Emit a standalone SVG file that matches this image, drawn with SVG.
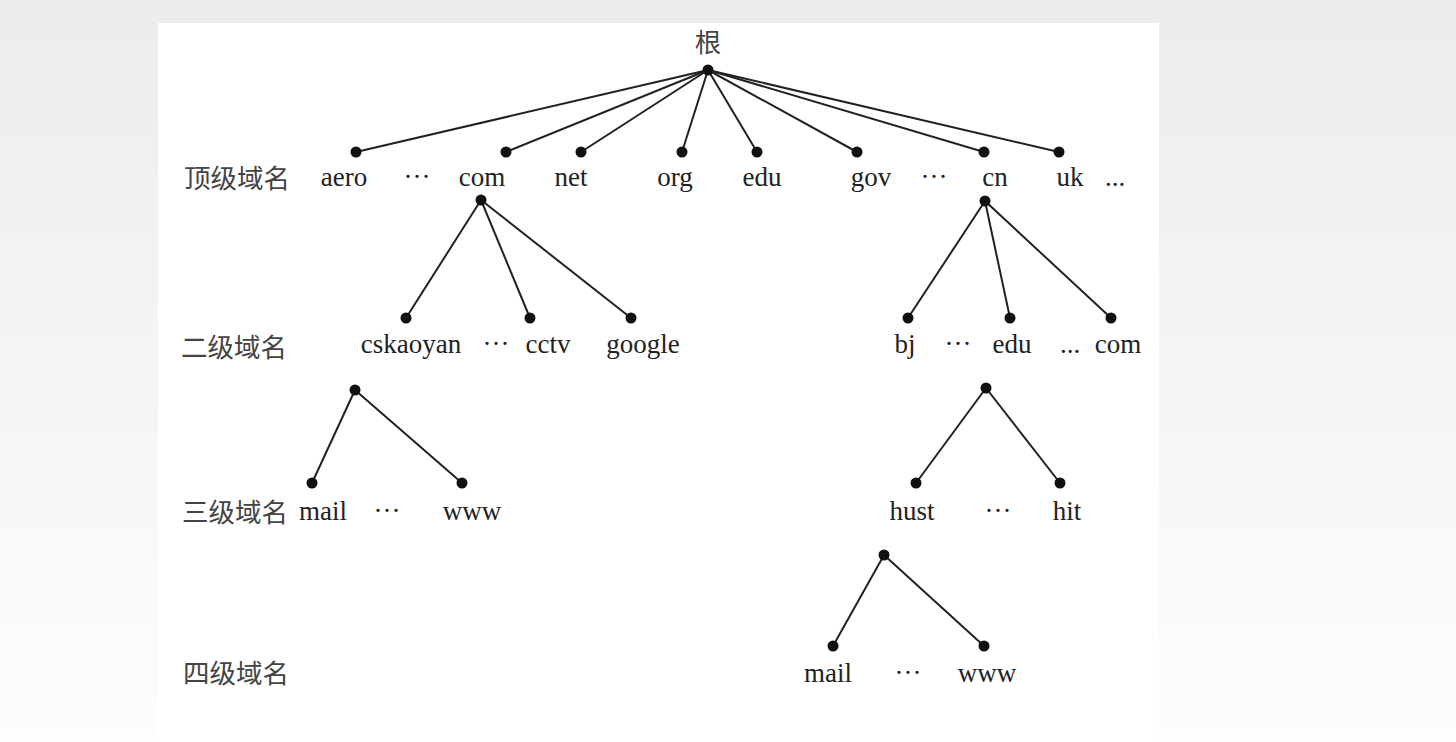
<svg xmlns="http://www.w3.org/2000/svg" width="1456" height="742" viewBox="0 0 1456 742">
<defs>
<linearGradient id="bg" x1="0" y1="0" x2="0" y2="1">
<stop offset="0" stop-color="#ececec"/>
<stop offset="1" stop-color="#fdfdfd"/>
</linearGradient>
</defs>
<style>
.t{font-family:"Liberation Serif","Times New Roman",serif;font-size:27px;fill:#222;text-anchor:middle}
.c{font-family:"Noto Sans CJK SC","Noto Sans",sans-serif;font-size:26.5px;fill:#444}
.d{fill:#111}
.e{stroke:#222;stroke-width:2;fill:none;stroke-linecap:round}
</style>
<rect x="0" y="0" width="1456" height="742" fill="url(#bg)"/>
<rect x="158" y="23" width="1001" height="719" fill="#ffffff"/>

<g id="connectors" class="e">
<line x1="708" y1="70" x2="356" y2="152"/>
<line x1="708" y1="70" x2="506" y2="152"/>
<line x1="708" y1="70" x2="581" y2="152"/>
<line x1="708" y1="70" x2="682" y2="152"/>
<line x1="708" y1="70" x2="757" y2="152"/>
<line x1="708" y1="70" x2="857" y2="152"/>
<line x1="708" y1="70" x2="984" y2="152"/>
<line x1="708" y1="70" x2="1059" y2="152"/>
<line x1="481" y1="200" x2="406" y2="318"/>
<line x1="481" y1="200" x2="530" y2="318"/>
<line x1="481" y1="200" x2="631" y2="318"/>
<line x1="985" y1="201" x2="908" y2="318"/>
<line x1="985" y1="201" x2="1010" y2="318"/>
<line x1="985" y1="201" x2="1111" y2="318"/>
<line x1="355" y1="390" x2="312" y2="483"/>
<line x1="355" y1="390" x2="462" y2="483"/>
<line x1="986" y1="388" x2="916" y2="483"/>
<line x1="986" y1="388" x2="1060" y2="483"/>
<line x1="884" y1="555" x2="833" y2="646"/>
<line x1="884" y1="555" x2="984" y2="646"/>
</g>

<g id="level-labels">
<text class="c" x="184" y="188">顶级域名</text>
<text class="c" x="181" y="357">二级域名</text>
<text class="c" x="182" y="522">三级域名</text>
<text class="c" x="183" y="683">四级域名</text>
</g>

<g id="root"><text class="c" x="708" y="52" text-anchor="middle">根</text><circle class="d" cx="708" cy="70" r="5.5"/></g>

<g id="aero"><circle class="d" cx="356" cy="152" r="5.5"/><text class="t" x="344" y="186">aero</text></g>
<g id="dots-top-1"><text class="t" x="417" y="186">···</text></g>
<g id="com"><circle class="d" cx="506" cy="152" r="5.5"/><text class="t" x="482" y="186">com</text><circle class="d" cx="481" cy="200" r="5.5"/></g>
<g id="net"><circle class="d" cx="581" cy="152" r="5.5"/><text class="t" x="571" y="186">net</text></g>
<g id="org"><circle class="d" cx="682" cy="152" r="5.5"/><text class="t" x="675" y="186">org</text></g>
<g id="edu"><circle class="d" cx="757" cy="152" r="5.5"/><text class="t" x="762" y="186">edu</text></g>
<g id="gov"><circle class="d" cx="857" cy="152" r="5.5"/><text class="t" x="871" y="186">gov</text></g>
<g id="dots-top-2"><text class="t" x="934" y="186">···</text></g>
<g id="cn"><circle class="d" cx="984" cy="152" r="5.5"/><text class="t" x="995" y="186">cn</text><circle class="d" cx="985" cy="201" r="5.5"/></g>
<g id="uk"><circle class="d" cx="1059" cy="152" r="5.5"/><text class="t" x="1070" y="186">uk</text></g>
<g id="dots-top-3"><text class="t" x="1115" y="186">...</text></g>

<g id="cskaoyan"><circle class="d" cx="406" cy="318" r="5.5"/><text class="t" x="411" y="353">cskaoyan</text><circle class="d" cx="355" cy="390" r="5.5"/></g>
<g id="dots-2a"><text class="t" x="496" y="353">···</text></g>
<g id="cctv"><circle class="d" cx="530" cy="318" r="5.5"/><text class="t" x="548" y="353">cctv</text></g>
<g id="google"><circle class="d" cx="631" cy="318" r="5.5"/><text class="t" x="643" y="353">google</text></g>

<g id="bj"><circle class="d" cx="908" cy="318" r="5.5"/><text class="t" x="905" y="353">bj</text></g>
<g id="dots-2b"><text class="t" x="958" y="353">···</text></g>
<g id="cn-edu"><circle class="d" cx="1010" cy="318" r="5.5"/><text class="t" x="1012" y="353">edu</text><circle class="d" cx="986" cy="388" r="5.5"/></g>
<g id="dots-2c"><text class="t" x="1070" y="353">...</text></g>
<g id="cn-com"><circle class="d" cx="1111" cy="318" r="5.5"/><text class="t" x="1118" y="353">com</text></g>

<g id="mail3"><circle class="d" cx="312" cy="483" r="5.5"/><text class="t" x="323" y="520">mail</text></g>
<g id="dots-3a"><text class="t" x="387" y="520">···</text></g>
<g id="www3"><circle class="d" cx="462" cy="483" r="5.5"/><text class="t" x="472" y="520">www</text></g>

<g id="hust"><circle class="d" cx="916" cy="483" r="5.5"/><text class="t" x="912" y="520">hust</text><circle class="d" cx="884" cy="555" r="5.5"/></g>
<g id="dots-3b"><text class="t" x="998" y="520">···</text></g>
<g id="hit"><circle class="d" cx="1060" cy="483" r="5.5"/><text class="t" x="1067" y="520">hit</text></g>

<g id="mail4"><circle class="d" cx="833" cy="646" r="5.5"/><text class="t" x="828" y="682">mail</text></g>
<g id="dots-4"><text class="t" x="908" y="682">···</text></g>
<g id="www4"><circle class="d" cx="984" cy="646" r="5.5"/><text class="t" x="987" y="682">www</text></g>
</svg>
